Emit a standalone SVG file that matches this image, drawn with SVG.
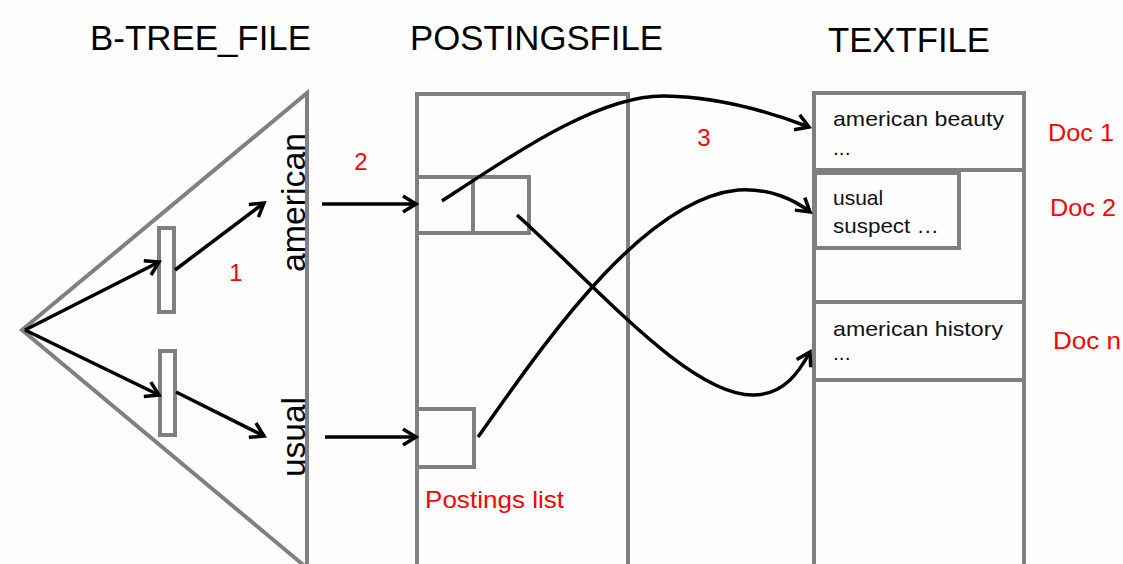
<svg xmlns="http://www.w3.org/2000/svg" width="1123" height="564" viewBox="0 0 1123 564">
<style>
.box{fill:none;stroke:#808080;stroke-width:4}
.arr{fill:none;stroke:#000;stroke-width:3.5;marker-end:url(#ah)}
.title{font-family:"Liberation Sans",Arial,sans-serif;font-size:35px;fill:#000}
.key{font-family:"Liberation Sans",Arial,sans-serif;font-size:34px;fill:#000}
.doc{font-family:"Liberation Sans",Arial,sans-serif;font-size:21px;fill:#111}
.red{font-family:"Liberation Sans",Arial,sans-serif;font-size:24px;fill:#ff0000}
</style>
<defs>
<marker id="ah" markerUnits="userSpaceOnUse" markerWidth="22" markerHeight="22" refX="16" refY="10" orient="auto" overflow="visible">
<path d="M3,2 L16,10 L3,18" fill="none" stroke="#000" stroke-width="3.5"/>
</marker>
</defs>
<rect width="1123" height="564" fill="#fefefe"/>
<g id="titles">
<text class="title" x="90" y="50" textLength="221" lengthAdjust="spacingAndGlyphs">B-TREE_FILE</text>
<text class="title" x="410" y="50" textLength="253" lengthAdjust="spacingAndGlyphs">POSTINGSFILE</text>
<text class="title" x="828" y="52" textLength="162" lengthAdjust="spacingAndGlyphs">TEXTFILE</text>
</g>
<g id="btree">
<polygon class="box" points="307,93 22,330 307,568"/>
<rect class="box" x="159" y="228" width="15" height="84"/>
<rect class="box" x="160" y="351" width="15" height="84"/>
<text class="key" transform="translate(305,272) rotate(-90)" textLength="139" lengthAdjust="spacingAndGlyphs">american</text>
<text class="key" transform="translate(305,477) rotate(-90)" textLength="80" lengthAdjust="spacingAndGlyphs">usual</text>
</g>
<g id="postings">
<rect class="box" x="417" y="94" width="211" height="480"/>
<rect class="box" x="417" y="177" width="112" height="56"/>
<line class="box" x1="473" y1="177" x2="473" y2="233"/>
<rect class="box" x="417" y="409" width="57" height="58"/>
<text class="red" x="425" y="508" textLength="139" lengthAdjust="spacingAndGlyphs">Postings list</text>
</g>
<g id="textfile">
<rect class="box" x="814" y="93" width="210" height="480"/>
<line class="box" x1="814" y1="170" x2="1024" y2="170"/>
<rect class="box" x="815" y="173" width="144" height="75"/>
<line class="box" x1="814" y1="302" x2="1024" y2="302"/>
<line class="box" x1="814" y1="380" x2="1024" y2="380"/>
<text class="doc" x="833" y="126" textLength="171" lengthAdjust="spacingAndGlyphs">american beauty</text>
<text class="doc" x="833" y="155">...</text>
<text class="doc" x="833" y="205">usual</text>
<text class="doc" x="833" y="233" textLength="106" lengthAdjust="spacingAndGlyphs">suspect …</text>
<text class="doc" x="833" y="336" textLength="170" lengthAdjust="spacingAndGlyphs">american history</text>
<text class="doc" x="833" y="360">...</text>
</g>
<g id="labels">
<text class="red" x="236" y="281" text-anchor="middle">1</text>
<text class="red" x="361" y="170" text-anchor="middle">2</text>
<text class="red" x="704" y="146" text-anchor="middle">3</text>
<text class="red" x="1048" y="141" textLength="66" lengthAdjust="spacingAndGlyphs">Doc 1</text>
<text class="red" x="1050" y="216" textLength="66" lengthAdjust="spacingAndGlyphs">Doc 2</text>
<text class="red" x="1053" y="349" textLength="68" lengthAdjust="spacingAndGlyphs">Doc n</text>
</g>
<g id="connectors">
<line class="arr" x1="25" y1="330" x2="159" y2="262"/>
<line class="arr" x1="175" y1="270" x2="264" y2="203"/>
<line class="arr" x1="25" y1="330" x2="159" y2="395"/>
<line class="arr" x1="176" y1="392" x2="264" y2="436"/>
<line class="arr" x1="322" y1="204" x2="416" y2="204"/>
<line class="arr" x1="325" y1="437" x2="416" y2="437"/>
<path class="arr" d="M442,201 C520,150 600,95 665,96 C720,97 770,112 809,127"/>
<path class="arr" d="M517,215 C600,290 690,395 753,395 C785,395 800,370 810,352"/>
<path class="arr" d="M478,437 C540,350 640,200 738,190 C770,188 795,200 810,212"/>
</g>
</svg>
